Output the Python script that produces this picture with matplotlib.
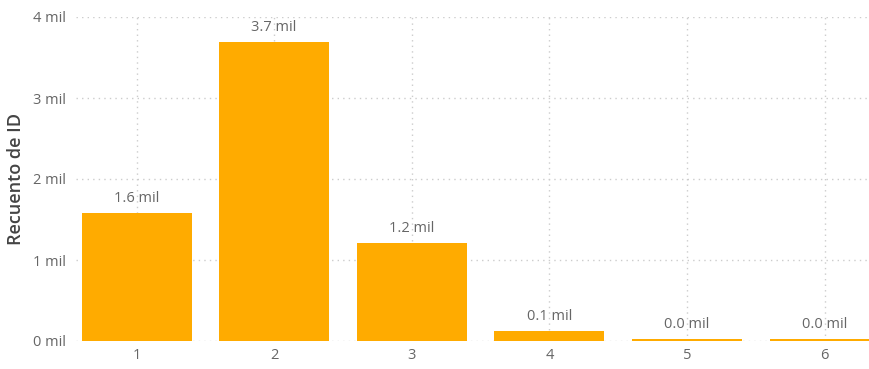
import matplotlib
matplotlib.use("Agg")
import matplotlib.pyplot as plt

# data
categorias = ["1", "2", "3", "4", "5", "6"]
recuento = [1580, 3690, 1210, 120, 20, 20]
etiquetas = ["1.6 mil", "3.7 mil", "1.2 mil", "0.1 mil", "0.0 mil", "0.0 mil"]
yticks = [0, 1000, 2000, 3000, 4000]
ytick_labels = ["0 mil", "1 mil", "2 mil", "3 mil", "4 mil"]

BAR = "#FFAB00"
GRAY = "#666666"
GRID = "#CCCCCC"

plt.rcParams['font.family'] = ['Open Sans', 'DejaVu Sans']

fig = plt.figure(figsize=(8.7, 3.69), dpi=100)
ax = fig.add_axes([76/870, 1 - 341/369, 1 - 76/870, (341 - 17)/369])

x = list(range(len(categorias)))
ax.bar(x, recuento, width=0.8, color=BAR, zorder=3)

for xi, v, lab in zip(x, recuento, etiquetas):
    ax.annotate(lab, (xi, v), xytext=(0, 5), textcoords="offset points",
                ha="center", va="bottom", fontsize=10.5, color=GRAY)

ax.set_xlim(-0.44, 5.33)
ax.set_ylim(0, 4000)
ax.set_xticks(x)
ax.set_xticklabels(categorias)
ax.set_yticks(yticks)
ax.set_yticklabels(ytick_labels)

ax.grid(True, axis="both", linestyle=(0, (1, 3)), color=GRID, linewidth=1, zorder=0)
for s in ax.spines.values():
    s.set_visible(False)
ax.tick_params(axis="both", length=0, colors=GRAY, labelsize=10.5)
ax.tick_params(axis="x", pad=5)
ax.tick_params(axis="y", pad=7)

ax.set_ylabel("Recuento de ID", fontsize=13, color="#444444", fontweight="semibold", labelpad=6)

fig.savefig("out.png", dpi=100)
